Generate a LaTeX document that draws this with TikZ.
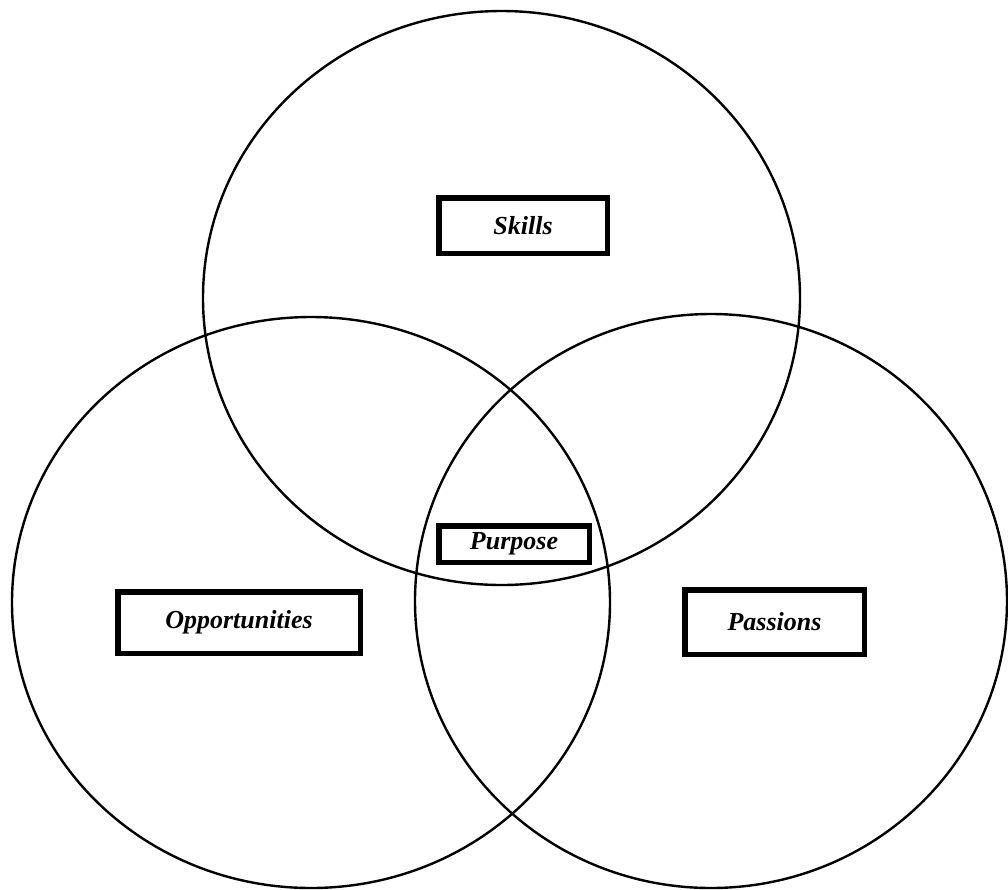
\documentclass[tikz,border=0pt]{standalone}
\usepackage{fontspec}
\setmainfont{Liberation Serif}
\begin{document}
\begin{tikzpicture}[
    x=0.5pt, y=-0.5pt,
    every node/.style = {shape=rectangle, draw, line width=2.75pt, align=center,
                         font=\fontsize{13}{15}\selectfont\bfseries\itshape},
    ring/.style = {line width=1.2pt}
    ]
    \useasboundingbox (0,0) rectangle (1008,890);
    % the three circles
    \draw[ring] (501.5,298) ellipse (298.5 and 287);
    \draw[ring] (311,602.5) ellipse (299 and 285.5);
    \draw[ring] (711,601) ellipse (296 and 287);
    % labels
    \node[minimum width=84.25pt, minimum height=27.75pt] (skills) at (523,225.5) {Skills};
    \node[minimum width=75.25pt, minimum height=18.25pt, fill=white] (purpose) at (514,544) {Purpose};
    \node[minimum width=121.25pt, minimum height=30.75pt] (opportunities) at (239,622.5) {Opportunities};
    \node[minimum width=89.75pt, minimum height=32.25pt] (passions) at (774.5,622) {Passions};
\end{tikzpicture}
\end{document}
